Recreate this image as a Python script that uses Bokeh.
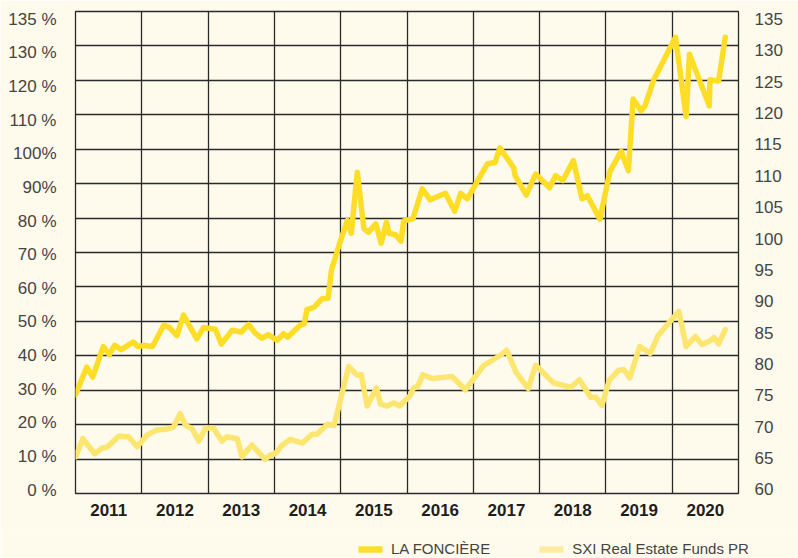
from bokeh.plotting import figure
from bokeh.layouts import column
from bokeh.models import (Range1d, LinearAxis, FixedTicker, Grid, Legend, LegendItem)
from bokeh.embed import file_html
from bokeh.resources import INLINE

# ---------------- data ----------------
la_x = [2011.00, 2011.17, 2011.26, 2011.42, 2011.51, 2011.59, 2011.69, 2011.87, 2011.94, 2012.04,
        2012.16, 2012.33, 2012.41, 2012.53, 2012.63, 2012.71, 2012.83, 2012.93, 2013.11, 2013.20,
        2013.36, 2013.50, 2013.61, 2013.71, 2013.81, 2013.91, 2014.04, 2014.14, 2014.20, 2014.40,
        2014.45, 2014.49, 2014.60, 2014.72, 2014.81, 2014.86, 2014.95, 2015.10, 2015.16, 2015.25,
        2015.35, 2015.42, 2015.53, 2015.61, 2015.69, 2015.73, 2015.83, 2015.91, 2015.95, 2016.09,
        2016.23, 2016.35, 2016.58, 2016.72, 2016.81, 2016.91, 2017.21, 2017.33, 2017.40, 2017.61,
        2017.63, 2017.80, 2017.94, 2018.15, 2018.24, 2018.35, 2018.51, 2018.64, 2018.72, 2018.91,
        2019.06, 2019.23, 2019.34, 2019.41, 2019.53, 2019.59, 2019.72, 2020.05, 2020.21, 2020.26,
        2020.56, 2020.57, 2020.70, 2020.80]
la_y = [28.7, 36.7, 33.8, 42.7, 40.3, 43.0, 41.8, 44.0, 42.7, 43.0,
        42.7, 48.8, 48.3, 45.9, 51.8, 49.0, 44.9, 48.2, 47.7, 43.4,
        47.4, 46.9, 49.1, 46.6, 45.1, 46.1, 44.5, 46.4, 45.4, 49.1,
        49.3, 53.4, 54.1, 56.6, 56.7, 64.8, 70.6, 79.3, 75.6, 93.3,
        76.9, 75.9, 78.3, 72.7, 78.8, 75.6, 75.1, 73.3, 79.2, 79.8,
        88.5, 85.3, 87.2, 82.0, 87.2, 85.6, 95.7, 96.2, 100.4, 94.6,
        92.3, 86.7, 92.8, 88.8, 92.3, 90.9, 96.7, 85.6, 86.5, 79.7,
        93.5, 99.4, 93.8, 114.6, 111.2, 112.6, 120.1, 132.5, 109.5, 127.6,
        112.6, 120.1, 119.8, 132.5]

sxi_x = [2011.00, 2011.11, 2011.29, 2011.40, 2011.47, 2011.65, 2011.80, 2011.93, 2012.08, 2012.23,
         2012.36, 2012.48, 2012.58, 2012.66, 2012.76, 2012.86, 2012.96, 2013.08, 2013.21, 2013.28,
         2013.44, 2013.51, 2013.66, 2013.86, 2013.94, 2014.01, 2014.12, 2014.24, 2014.42, 2014.57,
         2014.64, 2014.80, 2014.90, 2015.12, 2015.25, 2015.31, 2015.40, 2015.54, 2015.60, 2015.70,
         2015.80, 2015.89, 2016.05, 2016.10, 2016.16, 2016.24, 2016.38, 2016.68, 2016.88, 2017.16,
         2017.41, 2017.50, 2017.65, 2017.83, 2017.94, 2018.21, 2018.47, 2018.60, 2018.77, 2018.85,
         2018.94, 2019.05, 2019.19, 2019.27, 2019.36, 2019.51, 2019.67, 2019.79, 2020.10, 2020.21,
         2020.35, 2020.45, 2020.57, 2020.63, 2020.70, 2020.80]
sxi_y = [65.2, 68.1, 65.7, 66.6, 66.7, 68.5, 68.4, 66.8, 68.7, 69.5,
         69.6, 70.0, 72.1, 70.2, 69.7, 67.7, 69.8, 69.8, 67.7, 68.4,
         68.1, 65.2, 67.1, 64.8, 65.5, 65.7, 67.1, 68.0, 67.4, 68.8,
         68.8, 70.4, 70.2, 79.6, 78.2, 78.3, 73.3, 76.2, 73.6, 73.3,
         73.8, 73.3, 75.0, 76.2, 76.4, 78.3, 77.7, 78.0, 75.9, 79.8,
         81.4, 82.2, 78.6, 76.1, 79.8, 77.0, 76.3, 77.5, 74.7, 74.7,
         73.4, 77.4, 79.0, 79.1, 77.8, 82.8, 81.7, 84.6, 88.4, 82.8,
         84.4, 83.1, 83.7, 84.2, 83.2, 85.5]

years = [2011, 2012, 2013, 2014, 2015, 2016, 2017, 2018, 2019, 2020]
left_ticks = [0, 10, 20, 30, 40, 50, 60, 70, 80, 90, 100, 110, 120, 130, 140]
left_labels = ["0 %", "10 %", "20 %", "30 %", "40 %", "50 %", "60 %", "70 %", "80 %", "90%",
               "100%", "110 %", "120 %", "130 %", "135 %"]
right_ticks = [60, 65, 70, 75, 80, 85, 90, 95, 100, 105, 110, 115, 120, 125, 130, 135]
series_names = ["LA FONCIÈRE", "SXI Real Estate Funds PR"]

# ---------------- style ----------------
BG = "#fefbec"
C_LA = "#fedd26"
C_SXI = "#fde670"
C_SXI_LEG = "#fdeca0"
GRID = "#2a2a2a"
FONT = "Liberation Sans"
NAN = float("nan")

p = figure(width=798, height=530, output_backend="svg", toolbar_location=None,
           x_range=Range1d(2011, 2021), y_range=Range1d(0, 140),
           x_axis_location=None, y_axis_location=None,
           min_border_left=75, min_border_right=60, min_border_top=11, min_border_bottom=37)
p.background_fill_color = BG
p.border_fill_color = BG
p.outline_line_color = GRID
p.outline_line_width = 1.3
p.grid.visible = False

p.extra_y_ranges = {"lab": Range1d(-0.98, 142.26), "right": Range1d(59.36, 136.2)}

# grids
p.add_layout(Grid(dimension=1, ticker=FixedTicker(ticks=left_ticks),
                  grid_line_color=GRID, grid_line_width=1.3))
p.add_layout(Grid(dimension=0, ticker=FixedTicker(ticks=years[1:]),
                  grid_line_color=GRID, grid_line_width=1.3))

# axes
def style_axis(ax, size, color, bold=False):
    ax.axis_line_color = None
    ax.major_tick_line_color = None
    ax.minor_tick_line_color = None
    ax.major_tick_out = 0
    ax.major_tick_in = 0
    ax.major_label_text_font = FONT
    ax.major_label_text_font_size = size
    ax.major_label_text_color = color
    if bold:
        ax.major_label_text_font_style = "bold"

lax = LinearAxis(y_range_name="lab", ticker=FixedTicker(ticks=left_ticks))
lax.major_label_overrides = {t: l for t, l in zip(left_ticks, left_labels)}
style_axis(lax, "17px", "#444444")
lax.major_label_standoff = 19
p.add_layout(lax, "left")

rax = LinearAxis(y_range_name="right", ticker=FixedTicker(ticks=right_ticks))
style_axis(rax, "17px", "#444444")
rax.major_label_standoff = 16
p.add_layout(rax, "right")

mids = [y + 0.5 for y in years]
bax = LinearAxis(ticker=FixedTicker(ticks=mids))
bax.major_label_overrides = {m: str(y) for m, y in zip(mids, years)}
style_axis(bax, "17px", "#1e1e1e", bold=True)
bax.major_label_standoff = 10
p.add_layout(bax, "below")

# lines
p.line(sxi_x, sxi_y, y_range_name="right", line_color=C_SXI, line_width=5.5,
       line_join="round", line_cap="round")
p.line(la_x, la_y, line_color=C_LA, line_width=5.5, line_join="round", line_cap="round")

# ---------------- legend strip ----------------
p2 = figure(width=798, height=28, output_backend="svg", toolbar_location=None,
            x_range=Range1d(0, 1), y_range=Range1d(0, 1),
            x_axis_location=None, y_axis_location=None,
            min_border_left=0, min_border_right=0, min_border_top=0, min_border_bottom=0)
p2.frame_align = False
p2.background_fill_color = BG
p2.border_fill_color = BG
p2.outline_line_color = None
p2.grid.visible = False
r1 = p2.quad(left=[NAN], right=[NAN], top=[NAN], bottom=[NAN], fill_color=C_LA, line_color=None)
r2 = p2.quad(left=[NAN], right=[NAN], top=[NAN], bottom=[NAN], fill_color=C_SXI_LEG, line_color=None)
leg = Legend(items=[LegendItem(label=series_names[0], renderers=[r1]),
                    LegendItem(label=series_names[1], renderers=[r2])],
             orientation="horizontal", location=(355, 1))
leg.background_fill_alpha = 0
leg.border_line_color = None
leg.padding = 0
leg.margin = 0
leg.spacing = 46
leg.glyph_width = 30
leg.glyph_height = 8
leg.label_height = 16
leg.label_standoff = 6
leg.label_text_font = FONT
leg.label_text_font_size = "15px"
leg.label_text_color = "#444444"
p2.add_layout(leg, "center")

layout = column(p, p2, spacing=0)
html = file_html(layout, INLINE)
html = html.replace("<body>", '<body style="background-color:%s;">' % BG, 1)
open("out.html", "w").write(html)
